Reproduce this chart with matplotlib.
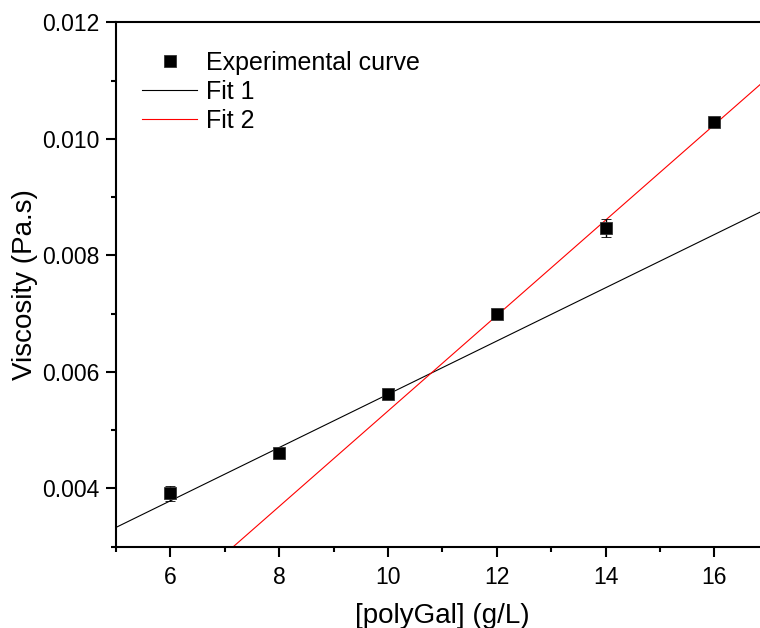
import matplotlib
matplotlib.use("Agg")
import matplotlib.pyplot as plt
import numpy as np
from matplotlib.lines import Line2D
from matplotlib.ticker import MultipleLocator, FormatStrFormatter

plt.rcParams["font.family"] = ["Liberation Sans", "DejaVu Sans"]

# polyGal concentration (g/L) and measured viscosity (Pa.s)
conc = [6, 8, 10, 12, 14, 16]
viscosity = [0.003914, 0.004605, 0.005620, 0.006995, 0.008468, 0.010285]
visc_err = [0.00013, 0.00004, 0.00004, 0.00004, 0.00015, 0.00004]

# linear fits: (intercept, slope)
fit1_coef = (0.001046, 0.000457)
fit2_coef = (-0.002861, 0.000819)
fit_x = [5, 17.5]

legend_labels = ["Experimental curve", "Fit 1", "Fit 2"]

fig = plt.figure(figsize=(7.6, 6.28), dpi=100)
ax = fig.add_axes([116 / 760, 1 - 546.7 / 628, 652.8 / 760, 524.4 / 628])

xf = np.array(fit_x)
ax.plot(xf, fit1_coef[0] + fit1_coef[1] * xf, color="black", lw=0.8, zorder=2)
ax.plot(xf, fit2_coef[0] + fit2_coef[1] * xf, color="red", lw=0.8, zorder=2)
ax.errorbar(conc, viscosity, yerr=visc_err, fmt="s", color="black",
            ms=8.5, mec="#333333", mew=0.6, ecolor="black", elinewidth=1.0,
            capsize=3.8, capthick=1.0, zorder=3)

ax.set_xlim(5, 17)
ax.set_ylim(0.003, 0.012)
ax.xaxis.set_major_locator(MultipleLocator(2))
ax.xaxis.set_minor_locator(MultipleLocator(1))
ax.yaxis.set_major_locator(MultipleLocator(0.002))
ax.yaxis.set_minor_locator(MultipleLocator(0.001))
ax.yaxis.set_major_formatter(FormatStrFormatter("%.3f"))

for s in ax.spines.values():
    s.set_linewidth(1.5)
ax.tick_params(which="both", direction="out", width=1.5, labelsize=16.5,
               top=False, right=False)
ax.tick_params(which="major", length=7, pad=5)
ax.tick_params(which="minor", length=3.6)
ax.tick_params(axis="x", which="major", pad=7)

ax.set_xlabel("[polyGal] (g/L)", fontsize=20, labelpad=10)
ax.set_ylabel("Viscosity (Pa.s)", fontsize=20, labelpad=3)

handles = [
    Line2D([], [], marker="s", ls="none", color="black", ms=8.5, mec="#333333", mew=0.6),
    Line2D([], [], color="black", lw=0.8),
    Line2D([], [], color="red", lw=0.8),
]
fig.legend(handles, legend_labels, loc="upper left",
           bbox_to_anchor=(142 / 760, 1 - 51 / 628), frameon=False,
           fontsize=18, handlelength=2.2, handletextpad=0.35,
           labelspacing=0.2, borderpad=0, borderaxespad=0, numpoints=1)

fig.savefig("out.png", dpi=100)
